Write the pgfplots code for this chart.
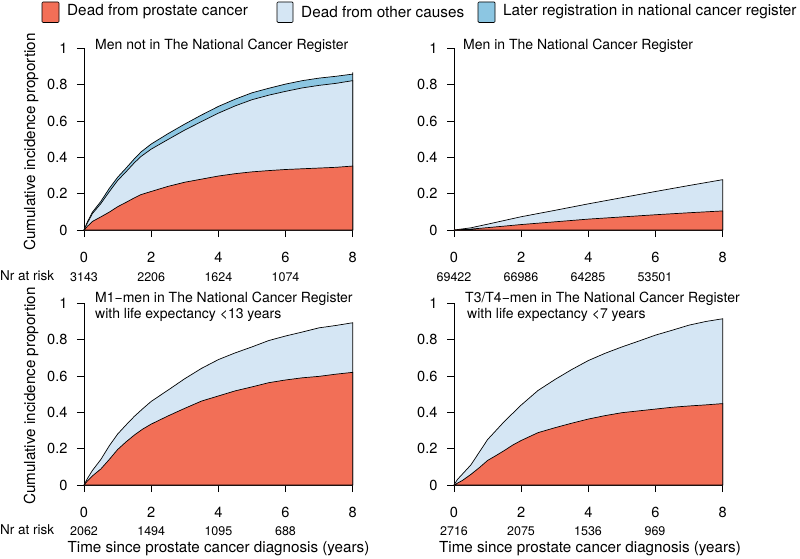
\documentclass[border=0pt]{standalone}
\usepackage{pgfplots}
\pgfplotsset{compat=1.18}
\usepackage{fontspec}
\setmainfont{TeX Gyre Heros}
\definecolor{cred}{HTML}{F26F57}
\definecolor{clight}{HTML}{D5E6F4}
\definecolor{cblue}{HTML}{8CC6E2}
\pgfplotsset{
  panel/.style={
    scale only axis, width=268.7pt, height=181.7pt,
    anchor=south west,
    xmin=0, xmax=8, ymin=0, ymax=1,
    axis lines*=left,
    axis line style={line width=0.8pt, black},
    tick align=outside, major tick length=7pt,
    tick style={line width=0.8pt, black},
    xtick={0,2,4,6,8}, xticklabels={0,2,4,6,8},
    ytick={0,0.2,0.4,0.6,0.8,1}, yticklabels={0,0.2,0.4,0.6,0.8,1},
    tick label style={font=\fontsize{14.6}{16}\selectfont},
    xticklabel style={yshift=-12pt},
    yticklabel style={xshift=-6pt},
    clip=false,
  },
  area/.style={draw=black, line width=0.7pt, fill=#1},
}
\begin{document}
\begin{tikzpicture}
\path[use as bounding box] (0pt,0pt) rectangle (800pt,558pt);
% ---------- legend ----------
\begin{scope}[font=\fontsize{15.3}{17}\selectfont]
\draw[fill=cred, line width=0.7pt, rounded corners=1pt] (42pt,535.5pt) rectangle (59pt,556pt);
\node[anchor=west, inner sep=0pt] at (67pt,546pt) {Dead from prostate cancer};
\draw[fill=clight, line width=0.7pt, rounded corners=1pt] (277pt,535.5pt) rectangle (293pt,556pt);
\node[anchor=west, inner sep=0pt] at (301pt,546pt) {Dead from other causes};
\draw[fill=cblue, line width=0.7pt, rounded corners=1pt] (478pt,535.5pt) rectangle (495pt,556pt);
\node[anchor=west, inner sep=0pt] at (503pt,546pt) {Later registration in national cancer register};
\end{scope}
% ---------- top left ----------
\begin{axis}[panel, at={(84pt,328pt)}]
\addplot[area=cblue] coordinates {(0,0) (0.1,0.044) (0.25,0.098) (0.5,0.157) (0.75,0.228) (1,0.29) (1.25,0.34) (1.5,0.392) (1.7,0.43) (2,0.473) (2.5,0.53) (3,0.583) (3.5,0.633) (4,0.68) (4.5,0.72) (5,0.755) (5.5,0.78) (6,0.803) (6.5,0.822) (7,0.836) (7.5,0.846) (8,0.858) (8,0.868)} \closedcycle;
\addplot[area=clight] coordinates {(0,0) (0.1,0.038) (0.25,0.09) (0.5,0.145) (0.75,0.21) (1,0.272) (1.25,0.32) (1.5,0.37) (1.7,0.405) (2,0.445) (2.5,0.498) (3,0.55) (3.5,0.597) (4,0.643) (4.5,0.683) (5,0.717) (5.5,0.742) (6,0.763) (6.5,0.782) (7,0.796) (7.5,0.807) (8,0.822)} \closedcycle;
\addplot[area=cred] coordinates {(0,0) (0.1,0.02) (0.25,0.047) (0.5,0.072) (0.75,0.098) (1,0.128) (1.25,0.152) (1.5,0.177) (1.7,0.195) (2,0.212) (2.5,0.24) (3,0.263) (3.5,0.28) (4,0.297) (4.5,0.31) (5,0.32) (5.5,0.327) (6,0.333) (6.5,0.337) (7,0.341) (7.5,0.345) (8,0.352)} \closedcycle;
\end{axis}
% ---------- top right ----------
\begin{axis}[panel, at={(454pt,328pt)}]
\addplot[area=clight] coordinates {(0,0) (0.5,0.012) (1,0.032) (2,0.073) (3,0.108) (4,0.144) (5,0.178) (6,0.212) (7,0.245) (8,0.277)} \closedcycle;
\addplot[area=cred] coordinates {(0,0) (0.5,0.005) (1,0.013) (2,0.03) (3,0.045) (4,0.06) (5,0.072) (6,0.084) (7,0.095) (8,0.105)} \closedcycle;
\end{axis}
% ---------- bottom left ----------
\begin{axis}[panel, at={(84pt,73pt)}]
\addplot[area=clight] coordinates {(0,0) (0.1,0.035) (0.25,0.08) (0.5,0.14) (0.75,0.215) (1,0.28) (1.25,0.33) (1.5,0.378) (1.75,0.42) (2,0.46) (2.5,0.522) (3,0.585) (3.5,0.642) (4,0.69) (4.5,0.727) (5,0.76) (5.5,0.795) (6,0.82) (6.5,0.842) (7,0.865) (7.5,0.878) (8,0.893)} \closedcycle;
\addplot[area=cred] coordinates {(0,0) (0.1,0.022) (0.25,0.05) (0.5,0.088) (0.75,0.14) (1,0.195) (1.25,0.237) (1.5,0.275) (1.75,0.308) (2,0.335) (2.5,0.38) (3,0.422) (3.5,0.462) (4,0.49) (4.5,0.518) (5,0.54) (5.5,0.563) (6,0.578) (6.5,0.59) (7,0.598) (7.5,0.61) (8,0.62)} \closedcycle;
\end{axis}
% ---------- bottom right ----------
\begin{axis}[panel, at={(454pt,73pt)}]
\addplot[area=clight] coordinates {(0,0) (0.1,0.03) (0.25,0.06) (0.5,0.11) (0.75,0.18) (1,0.25) (1.25,0.3) (1.5,0.35) (1.75,0.395) (2,0.44) (2.5,0.52) (3,0.58) (3.5,0.635) (4,0.685) (4.5,0.725) (5,0.76) (5.5,0.792) (6,0.825) (6.5,0.852) (7,0.88) (7.5,0.9) (8,0.915)} \closedcycle;
\addplot[area=cred] coordinates {(0,0) (0.25,0.025) (0.5,0.058) (0.75,0.095) (1,0.135) (1.25,0.162) (1.5,0.19) (1.75,0.22) (2,0.245) (2.5,0.288) (3,0.315) (3.5,0.34) (4,0.363) (4.5,0.382) (5,0.398) (5.5,0.408) (6,0.418) (6.5,0.428) (7,0.435) (7.5,0.441) (8,0.448)} \closedcycle;
\end{axis}
% ---------- titles ----------
\begin{scope}[font=\fontsize{14}{16}\selectfont, inner sep=0pt]
\node[anchor=west] at (95pt,512pt) {Men not in The National Cancer Register};
\node[anchor=west] at (463pt,512pt) {Men in The National Cancer Register};
\node[anchor=west] at (95pt,259pt) {M1−men in The National Cancer Register};
\node[anchor=west] at (95pt,243pt) {with life expectancy <13 years};
\node[anchor=west] at (465pt,259pt) {T3/T4−men in The National Cancer Register};
\node[anchor=west] at (467pt,243pt) {with life expectancy <7 years};
\end{scope}
% ---------- axis labels ----------
\begin{scope}[font=\fontsize{15.2}{17}\selectfont, inner sep=0pt]
\node[rotate=90] at (31pt,416pt) {Cumulative incidence proportion};
\node[rotate=90] at (31pt,162pt) {Cumulative incidence proportion};
\node at (218.5pt,9pt) {Time since prostate cancer diagnosis (years)};
\node at (590pt,9pt) {Time since prostate cancer diagnosis (years)};
\end{scope}
% ---------- numbers at risk ----------
\begin{scope}[inner sep=0pt]
\node[anchor=west, font=\fontsize{13.5}{15}\selectfont] at (0pt,282pt) {Nr at risk};
\node[anchor=west, font=\fontsize{13.5}{15}\selectfont] at (0pt,28pt) {Nr at risk};
\begin{scope}[font=\fontsize{12.5}{14}\selectfont]
\node at (84pt,281pt) {3143}; \node at (151.2pt,281pt) {2206}; \node at (218.4pt,281pt) {1624}; \node at (285.5pt,281pt) {1074};
\node at (454pt,281pt) {69422}; \node at (521pt,281pt) {66986}; \node at (588pt,281pt) {64285}; \node at (655pt,281pt) {53501};
\node at (84pt,27pt) {2062}; \node at (151.2pt,27pt) {1494}; \node at (218.4pt,27pt) {1095}; \node at (285.5pt,27pt) {688};
\node at (454pt,27pt) {2716}; \node at (521pt,27pt) {2075}; \node at (588pt,27pt) {1536}; \node at (655pt,27pt) {969};
\end{scope}
\end{scope}
\end{tikzpicture}
\end{document}
